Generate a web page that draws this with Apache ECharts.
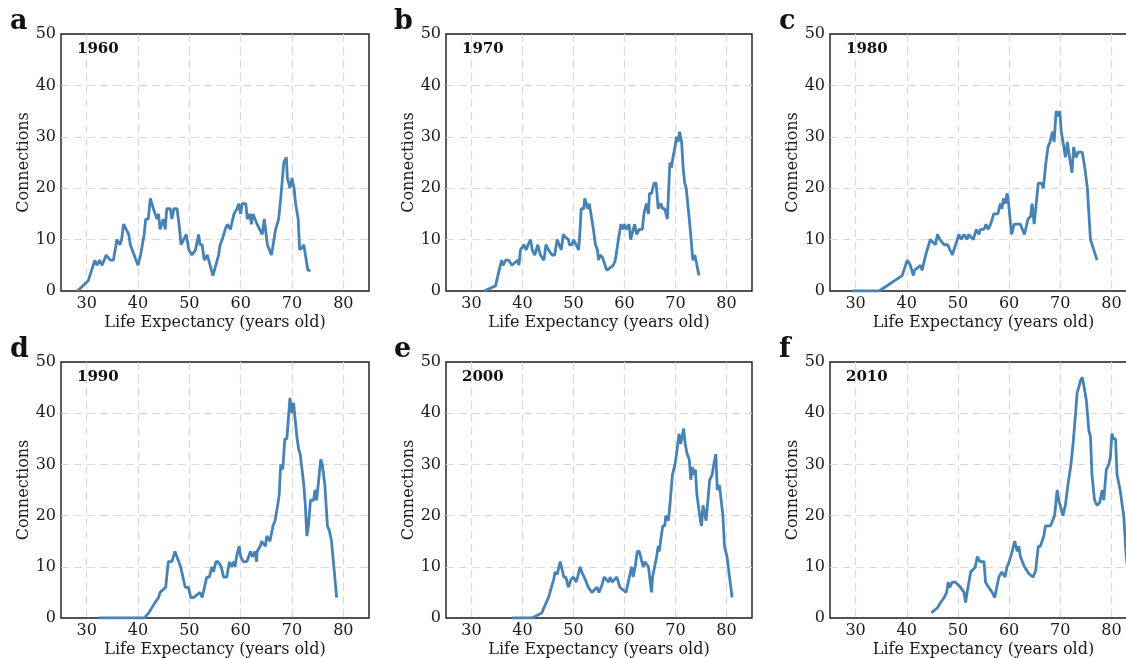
<!DOCTYPE html>
<html>
<head>
<meta charset="utf-8">
<script src="https://cdn.jsdelivr.net/npm/echarts@6/dist/echarts.min.js"></script>
<style>
html,body{margin:0;padding:0;background:#fff;}
#chart{width:1126px;height:658px;}
</style>
</head>
<body>
<div id="chart"></div>
<script>
// ---- data: [life expectancy, connections] ----
const years = ['1960', '1970', '1980', '1990', '2000', '2010'];
const panelLetters = ['a', 'b', 'c', 'd', 'e', 'f'];
const xTickLabels = [30, 40, 50, 60, 70, 80];
const yTickLabels = [0, 10, 20, 30, 40, 50];

const conn1960 = [[28.2,0],[30.3,2],[31.6,6],[32,5],[32.5,6],[33,5],[33.8,7],[34.6,6],[35.2,6],[35.9,10],[36.5,9],[36.8,10],[37.2,13],[37.7,12],[38.2,11],[38.5,9],[40,5],[40.5,7],[41.2,11],[41.5,14],[42,14],[42.4,18],[43,16],[43.7,14],[44,15],[44.3,12],[44.9,14],[45.3,12],[45.6,16],[46.3,16],[46.6,14],[47,16],[47.6,16],[48,13],[48.4,9],[48.9,10],[49.4,11],[49.9,8],[50.5,7],[51.2,8],[51.8,11],[52.1,9],[52.5,9],[52.9,6],[53.5,7],[54.6,3],[55.7,7],[56,9],[56.4,10],[57,12],[57.4,13],[58,12],[58.7,15],[59.3,16],[59.6,17],[60,15],[60.3,17],[61,17],[61.3,14],[61.8,15],[62.1,13],[62.4,15],[63.2,13],[64.2,11],[64.6,14],[65.2,9],[66,7],[66.8,12],[67.4,14],[67.8,18],[68.4,25],[68.9,26],[69.1,22],[69.6,20],[70,22],[70.4,20],[70.7,17],[71.2,14],[71.5,8],[72,8.5],[72.3,9],[73.1,4],[73.6,4]];

const conn1970 = [[32.5,0],[34.7,1],[35.9,6],[36.2,5],[36.7,6],[37.3,6],[37.9,5],[39.1,6],[39.3,5],[39.6,8],[40.3,9],[40.7,8],[41.1,9],[41.6,10],[41.9,8],[42.4,7],[43,9],[43.5,7],[44.2,6],[44.6,9],[45.1,8],[45.8,7],[46.3,7],[46.8,10],[47.2,9],[47.6,8],[48,11],[48.4,10.5],[49,10],[49.2,9],[49.7,9],[50,10],[50.5,9],[51,8],[51.3,12],[51.5,16],[52,16],[52.2,18],[52.5,18],[52.8,16],[53.1,17],[53.4,17],[53.9,12],[54.3,9],[54.7,8],[54.9,6],[55.2,7],[55.7,6.5],[56.5,4],[57.8,5],[58.2,6],[58.8,10],[59.3,13],[59.7,12],[60,13],[60.4,12],[60.9,13],[61.2,10],[61.5,10],[62,13],[62.4,11],[62.9,12],[63.5,12],[63.8,15],[64.3,17],[64.7,15],[64.9,19],[65.3,19],[65.8,21],[66.2,21],[66.6,16],[67.1,17],[67.5,16],[67.9,16],[68.4,14],[68.9,25],[69.2,24],[69.5,26],[69.9,28],[70.2,30],[70.5,29],[70.8,31],[71.2,29],[71.5,24],[71.8,21],[72.1,20],[72.8,13],[73.4,6],[73.8,7],[74.6,3]];

const conn1980 = [[29.3,0],[34.6,0],[39.1,3],[40.1,6],[40.7,5],[41.3,3],[41.5,4],[42.7,5],[43,4],[43.7,7],[44.6,10],[45.6,9],[46,11],[46.5,10],[47.3,9],[48,9],[48.9,7],[50.2,11],[50.6,10],[51.2,11],[51.8,10],[52.1,11],[53,10],[53.6,12],[54.1,11],[54.4,12],[55.1,12],[55.5,13],[55.9,12],[56.4,13],[57,15],[57.8,15],[58.3,17],[58.6,16],[58.9,18],[59.3,17],[59.6,19],[59.8,18],[60.5,11],[61,13],[62.2,13],[63,11],[63.7,14],[64.2,14.5],[64.5,17],[64.9,13],[65.3,17],[65.7,21],[66.3,21],[66.7,20],[66.9,22],[67.2,25],[67.6,28],[68,29],[68.5,31],[68.8,29],[69.2,35],[69.6,34],[69.9,35],[70.2,31],[70.7,28],[71,26],[71.4,29],[71.8,26],[72.3,23],[72.6,28],[73.1,26],[73.5,27],[74.3,27],[74.8,24],[75.3,20],[75.9,10],[77.2,6]];

const conn1990 = [[32.4,0],[41.2,0],[42.1,1],[43.3,3],[44,4],[44.3,5],[45.4,6],[45.9,11],[46.6,11],[46.9,12],[47.2,13],[47.5,13],[48.3,10],[49.2,6],[49.8,6],[50.3,4],[50.8,4],[52.1,5],[52.5,4],[53.4,8],[53.9,8],[54.4,10],[54.7,9],[55.2,11],[55.6,11],[56.2,10],[56.7,8],[57.3,8],[57.8,11],[58.2,10],[58.6,11],[58.9,10],[59.2,12],[59.7,14],[60,12],[60.5,11],[61.2,11],[61.9,13],[62.3,12],[62.8,13],[63.1,11],[63.2,13],[63.8,14],[64.1,15],[64.8,14],[65.1,16],[65.7,15],[66.3,18],[66.7,19],[67.2,22],[67.5,24],[67.8,30],[68.2,29],[68.6,35],[69,35],[69.3,39],[69.6,43],[70,40],[70.3,42],[70.6,39],[71,35],[71.3,33],[71.6,32],[72.3,26],[72.6,22],[72.9,16],[73.2,18],[73.6,23],[74.2,23],[74.5,25],[74.8,23],[75.3,28],[75.6,31],[75.9,30],[76.4,26],[76.9,18],[77.3,17],[77.7,15],[78.7,4]];

const conn2000 = [[38,0],[41.9,0],[43.8,1],[44.2,2],[45.1,4],[46.1,7.5],[46.4,9],[46.8,8.5],[47.4,11],[48.1,8],[48.5,8],[49,6],[49.5,7.5],[50,8],[50.5,7],[50.8,8],[51.3,10],[51.6,9],[52.1,8],[52.9,6],[53.6,5],[54.6,6],[55,5],[55.6,6.5],[56,8],[56.9,7],[57.2,8],[57.6,7],[58.5,8],[59.1,6],[60.3,5],[61.4,10],[61.7,8],[62.1,10],[62.5,13],[62.9,13],[63.4,11],[63.7,10],[64,11],[64.7,10],[65.3,5],[65.5,8],[66.3,12],[66.6,14],[66.8,13],[67.5,18],[67.9,18],[68.1,20],[68.6,19],[68.9,22],[69.4,28],[69.9,30],[70.2,32],[70.5,32],[70.7,36],[71,34],[71.4,36],[71.6,37],[71.9,34],[72.3,32],[72.7,31],[73,27],[73.3,29.5],[73.6,28],[73.9,29],[74.2,24],[74.9,19],[75.1,18],[75.4,22],[76,19],[76.7,27],[77.2,28],[77.5,30],[77.9,32],[78.2,25],[78.6,26],[79.3,20],[79.6,14],[80.1,12],[81.1,4]];

const conn2010 = [[44.8,1],[46,2],[46.6,3],[47.3,4],[47.8,5],[48.1,7],[48.4,6],[48.9,7],[49.5,7],[50.5,6],[51.2,5],[51.5,3],[51.8,5],[52.5,9],[53.1,9.6],[53.4,10],[53.8,12],[54.3,11],[55.1,11],[55.4,7],[56,6],[56.7,5],[57.2,4],[58,8],[58.6,9],[59.2,8],[59.6,10],[59.9,10.6],[60.6,13],[61.1,15],[61.6,13],[61.9,14],[62.2,12],[63,10],[63.9,8.6],[64.7,8],[65.2,9.3],[65.7,14],[66.1,14],[66.8,16],[67.1,18],[68.1,18],[68.9,20],[69.4,25],[69.7,23],[70,22],[70.5,20],[71,22],[71.5,26],[72.1,30],[72.5,34],[73,40],[73.3,44],[73.6,45],[74,46.5],[74.3,47],[74.6,45.5],[75.1,42.5],[75.6,36.5],[75.9,35.5],[76.2,28],[76.7,23],[77.2,22],[77.7,22.5],[78.2,25],[78.5,23],[79,29],[79.5,30],[79.8,31.5],[80.1,36],[80.4,35],[80.8,35],[81.1,28],[81.7,25],[82.4,20],[82.9,12],[83.6,6],[84.3,2]];

const seriesData = [conn1960, conn1970, conn1980, conn1990, conn2000, conn2010];

// ---- layout ----
const lefts = [61, 446, 830];
const widths = [308, 306, 307];
const tops = [34, 362];
const heights = [257, 256];
const serif = '"DejaVu Serif", serif';
const textColor = '#1a1a1a';

const grids = [], xAxes = [], yAxes = [], series = [], graphics = [];
for (let i = 0; i < 6; i++) {
  const col = i % 3, row = Math.floor(i / 3);
  grids.push({
    left: lefts[col], top: tops[row], width: widths[col], height: heights[row],
    show: true, borderColor: '#1a1a1a', borderWidth: 1.4, backgroundColor: 'transparent',
    containLabel: false, outerBoundsMode: 'none'
  });
  xAxes.push({
    type: 'value', gridIndex: i, min: 25, max: 85, splitNumber: 6,
    name: 'Life Expectancy (years old)', nameLocation: 'middle', nameGap: 24,
    nameTextStyle: { fontFamily: serif, fontSize: 16, color: textColor },
    axisLine: { show: false }, axisTick: { show: false },
    axisLabel: {
      fontFamily: serif, fontSize: 16, color: textColor, margin: 5,
      showMinLabel: false, showMaxLabel: false,
      formatter: v => (xTickLabels.indexOf(v) >= 0 ? String(v) : '')
    },
    splitLine: { show: true, showMinLine: false, showMaxLine: false,
      lineStyle: { color: '#d9d9d9', width: 1.2, type: [8, 5] } }
  });
  yAxes.push({
    type: 'value', gridIndex: i, min: 0, max: 50, interval: 10,
    name: 'Connections', nameLocation: 'middle', nameGap: 27,
    nameTextStyle: { fontFamily: serif, fontSize: 16, color: textColor },
    axisLine: { show: false }, axisTick: { show: false },
    axisLabel: {
      fontFamily: serif, fontSize: 16, color: textColor, margin: 5,
      formatter: v => (yTickLabels.indexOf(v) >= 0 ? String(v) : '')
    },
    splitLine: { show: true, showMinLine: false, showMaxLine: false,
      lineStyle: { color: '#d9d9d9', width: 1.2, type: [8, 5] } }
  });
  series.push({
    type: 'line', xAxisIndex: i, yAxisIndex: i, data: seriesData[i],
    showSymbol: false, symbol: 'none', clip: true, smooth: false,
    lineStyle: { color: '#4682b4', width: 2.8 }, z: 5
  });
  graphics.push({
    type: 'text', left: lefts[col] - 51 + (col === 1 ? -1 : 0), top: tops[row] - 26,
    style: { text: panelLetters[i], font: 'bold 27px ' + serif, fill: '#111' }
  });
  graphics.push({
    type: 'text', left: lefts[col] + 16, top: tops[row] + 8,
    style: { text: years[i], font: 'bold 15px ' + serif, fill: '#111' }
  });
}

const chart = echarts.init(document.getElementById('chart'), null, { renderer: 'canvas' });
chart.setOption({
  animation: false,
  backgroundColor: '#fff',
  grid: grids, xAxis: xAxes, yAxis: yAxes, series: series, graphic: graphics
});
</script>
</body>
</html>
